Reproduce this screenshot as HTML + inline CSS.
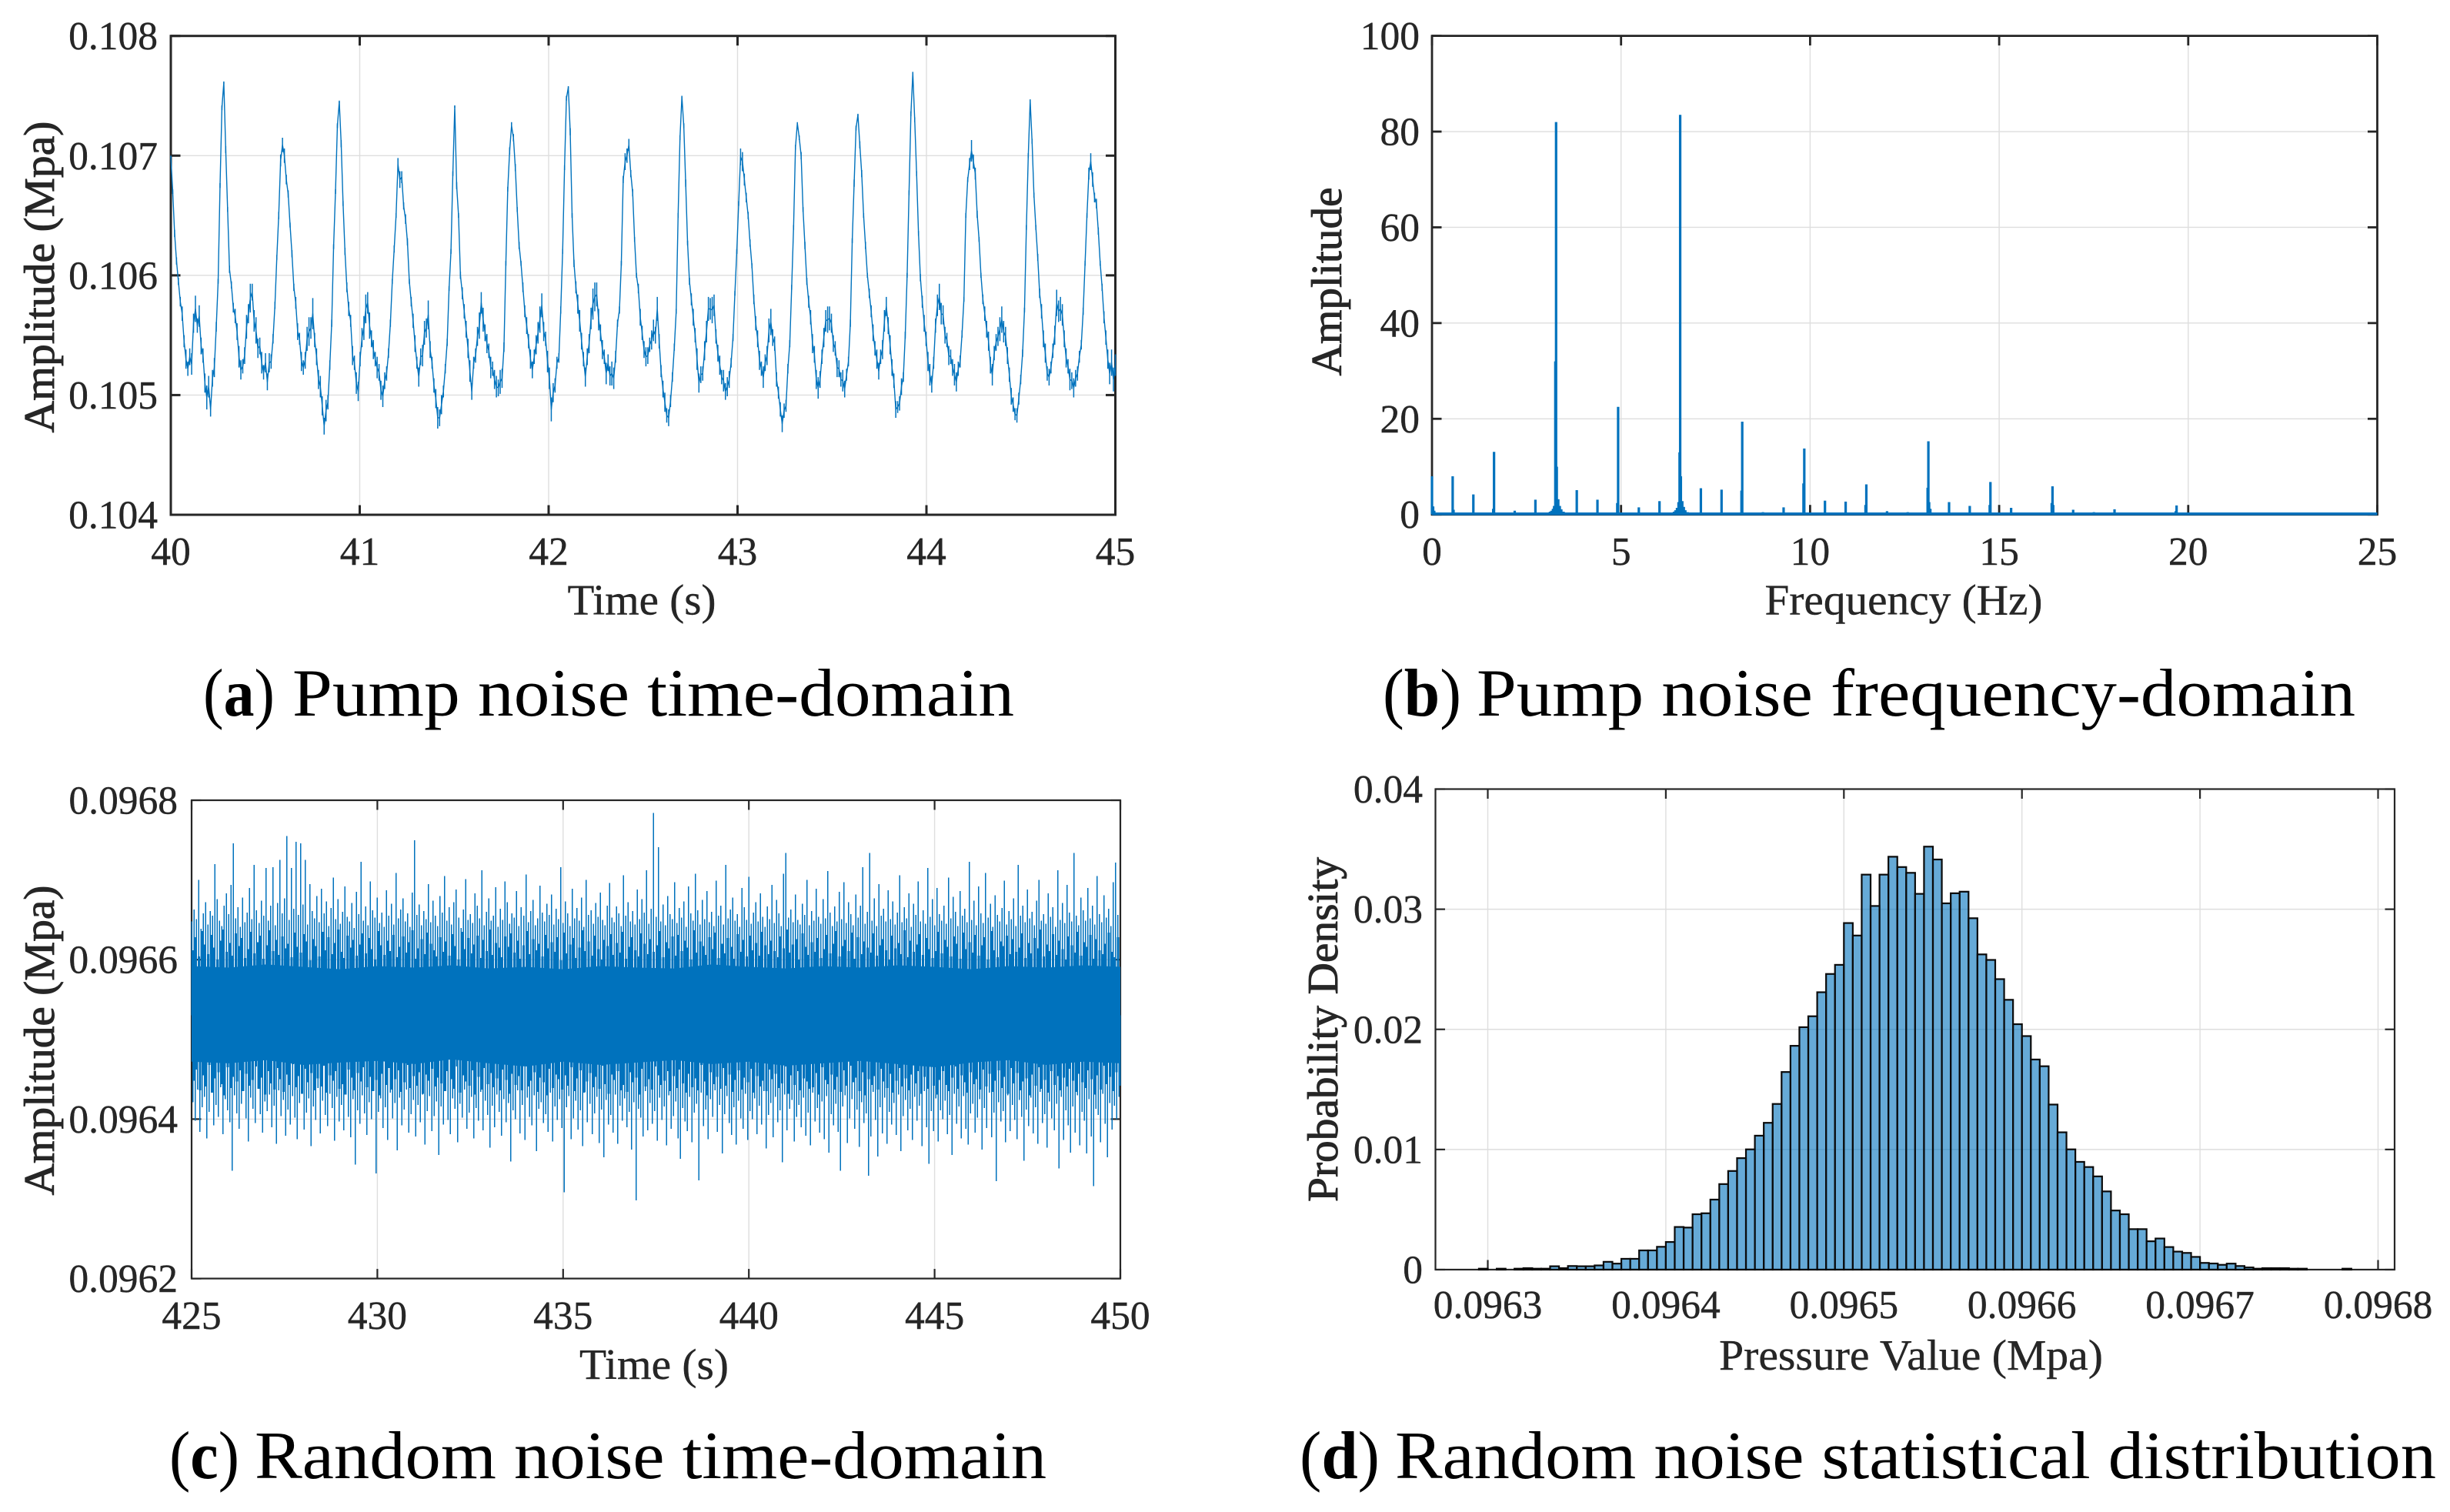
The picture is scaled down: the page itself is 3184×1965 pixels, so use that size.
<!DOCTYPE html>
<html lang="en">
<head>
<meta charset="utf-8">
<title>Pump noise and random noise analysis</title>
<style>
html,body{margin:0;padding:0;background:#fff;width:3184px;height:1965px;overflow:hidden}
svg{display:block}
text{font-family:"Liberation Serif",serif;fill:#262626;stroke:#262626;stroke-width:.4px}
.cap{fill:#000;stroke:none}
</style>
</head>
<body>
<svg id="fig" xmlns="http://www.w3.org/2000/svg" width="3184" height="1965" viewBox="0 0 3184 1965">
<rect width="3184" height="1965" fill="#fff"/>
<g id="panel-a"></g>
<g id="panel-b"></g>
<g id="panel-c"></g>
<g id="panel-d"></g>
<text class="cap" x="264" y="930" font-size="88" textLength="93" lengthAdjust="spacingAndGlyphs">(<tspan font-weight="bold">a</tspan>)</text>
<text class="cap" x="380" y="930" font-size="88" textLength="938" lengthAdjust="spacingAndGlyphs">Pump noise time-domain</text>
<text class="cap" x="1797" y="930" font-size="88" textLength="102" lengthAdjust="spacingAndGlyphs">(<tspan font-weight="bold">b</tspan>)</text>
<text class="cap" x="1919" y="930" font-size="88" textLength="1142" lengthAdjust="spacingAndGlyphs">Pump noise frequency-domain</text>
<text class="cap" x="220" y="1921" font-size="88" textLength="91" lengthAdjust="spacingAndGlyphs">(<tspan font-weight="bold">c</tspan>)</text>
<text class="cap" x="331" y="1921" font-size="88" textLength="1029" lengthAdjust="spacingAndGlyphs">Random noise time-domain</text>
<text class="cap" x="1689" y="1921" font-size="88" textLength="104" lengthAdjust="spacingAndGlyphs">(<tspan font-weight="bold">d</tspan>)</text>
<text class="cap" x="1813" y="1921" font-size="88" textLength="1353" lengthAdjust="spacingAndGlyphs">Random noise statistical distribution</text>
</svg>
<script>
// ---------- Panel (a) data: pump pressure, units of 1e-5 Mpa, sampled uniformly from 40 s to 45 s
const pumpTimeRange = [40, 45];
const pumpTimeTicks = [40, 41, 42, 43, 44, 45];
const pumpAmpTicks = [0.104, 0.105, 0.106, 0.107, 0.108];
const pumpAmp = [
10699,10670,10635,10612,10595,10578,10568,10545,10530,10522,10532,10526,10560,10572,10558,10566,10541,10533,10510,10498,
10507,10488,10514,10523,10557,10595,10675,10740,10761,10705,10655,10605,10592,10573,10566,10553,10532,10521,10524,10533,
10557,10568,10581,10586,10562,10554,10539,10541,10527,10519,10527,10511,10527,10528,10547,10575,10615,10650,10696,10709,
10700,10680,10668,10642,10618,10590,10577,10553,10547,10528,10523,10529,10547,10553,10556,10568,10546,10532,10513,10507,
10491,10474,10487,10494,10525,10560,10624,10670,10725,10745,10710,10660,10620,10590,10572,10562,10533,10527,10510,10503,
10530,10548,10556,10572,10577,10558,10547,10538,10530,10523,10519,10504,10499,10512,10518,10535,10560,10595,10622,10650,
10693,10680,10682,10658,10647,10628,10595,10578,10562,10543,10527,10515,10532,10533,10552,10556,10567,10538,10527,10508,
10497,10481,10481,10492,10503,10522,10544,10589,10620,10685,10741,10675,10650,10600,10585,10570,10555,10539,10520,10503,
10527,10533,10549,10558,10577,10563,10552,10543,10537,10523,10522,10513,10507,10506,10511,10514,10540,10610,10672,10704,
10725,10715,10690,10655,10625,10610,10590,10570,10558,10545,10530,10521,10532,10542,10552,10563,10575,10553,10547,10528,
10514,10488,10502,10508,10527,10531,10571,10620,10690,10748,10757,10720,10650,10610,10590,10576,10562,10545,10530,10515,
10532,10543,10564,10576,10582,10584,10563,10552,10538,10532,10518,10527,10516,10518,10514,10532,10560,10571,10610,10680,
10695,10700,10709,10685,10669,10630,10600,10589,10565,10552,10538,10532,10533,10542,10546,10554,10550,10572,10545,10520,
10505,10494,10483,10481,10495,10515,10540,10570,10650,10715,10749,10725,10677,10627,10595,10580,10565,10550,10530,10510,
10517,10518,10537,10553,10572,10572,10571,10575,10549,10535,10525,10515,10512,10503,10507,10513,10527,10548,10585,10620,
10660,10699,10695,10680,10665,10650,10627,10608,10580,10560,10547,10529,10522,10515,10527,10533,10554,10561,10548,10543,
10513,10502,10488,10476,10487,10491,10522,10543,10590,10640,10707,10727,10715,10700,10655,10625,10595,10578,10565,10543,
10534,10513,10506,10513,10532,10548,10562,10563,10564,10560,10543,10539,10523,10522,10513,10512,10505,10517,10528,10560,
10629,10677,10723,10734,10709,10685,10650,10625,10600,10585,10570,10552,10539,10530,10520,10532,10538,10562,10574,10558,
10542,10523,10512,10488,10490,10493,10507,10515,10550,10600,10669,10735,10769,10730,10685,10635,10598,10578,10560,10547,
10528,10517,10509,10527,10558,10575,10582,10568,10567,10550,10546,10533,10532,10523,10517,10511,10522,10528,10551,10580,
10650,10680,10693,10704,10695,10685,10651,10630,10600,10580,10568,10555,10545,10525,10517,10535,10544,10549,10555,10563,
10553,10549,10533,10517,10499,10492,10484,10483,10497,10513,10535,10571,10640,10700,10746,10712,10667,10640,10615,10585,
10570,10547,10535,10518,10515,10523,10537,10550,10577,10570,10572,10567,10547,10531,10524,10513,10512,10506,10514,10518,
10532,10542,10570,10610,10650,10685,10695,10680,10665,10660,10637,10610,10590,10565,10548,10530,10518,10527,10513,10525
];
// half-span of the high-frequency ripple around each sample, same units
const pumpRipple = [
1,2,3,3,3,4,6,5,8,6,7,9,8,11,6,9,7,6,8,10,
9,6,7,8,4,2,2,2,1,3,2,3,3,4,6,7,9,8,6,7,
10,8,12,7,9,11,8,7,9,6,8,7,8,6,4,3,2,3,5,6,
6,4,3,2,3,3,5,7,5,8,6,7,10,12,9,13,6,7,8,9,
8,7,9,6,4,3,2,2,2,1,3,2,3,4,6,5,8,6,9,8,
6,8,10,12,9,11,7,8,6,9,7,8,9,7,6,4,3,2,3,2,
5,7,5,3,4,3,2,4,6,7,5,8,7,9,10,8,12,7,5,6,
8,9,7,8,5,4,3,2,2,2,1,3,2,3,5,6,7,8,9,7,
5,6,8,11,9,10,7,8,6,9,6,8,9,7,10,8,4,2,2,3,
3,3,3,2,3,2,4,5,7,6,8,7,6,8,9,11,10,8,6,9,
9,10,8,6,5,4,3,2,2,2,1,3,2,3,5,8,9,7,6,8,
7,8,9,13,12,10,9,7,8,6,9,7,8,10,9,5,3,3,2,3,
7,6,5,3,3,2,2,4,7,6,7,8,7,6,8,9,7,10,6,5,
7,8,6,7,5,4,3,2,2,2,1,2,3,2,3,5,7,6,9,8,
7,6,8,9,10,9,11,9,6,7,8,6,9,7,8,7,4,3,2,2,
2,7,8,5,4,3,3,2,4,6,7,8,6,9,7,8,10,11,7,6,
6,5,6,7,6,5,4,3,2,2,2,1,2,3,2,3,3,5,6,8,
7,8,9,7,6,8,9,11,10,8,7,6,8,7,6,9,7,5,4,3,
2,3,2,1,3,3,2,3,2,4,5,7,6,8,7,6,8,9,8,7,
8,7,6,7,5,6,7,4,3,2,2,2,1,2,2,2,3,5,7,6,
8,9,7,5,6,9,11,9,8,7,6,8,6,7,9,8,6,5,3,2,
2,2,5,9,6,5,3,2,2,4,6,7,8,7,9,6,7,8,10,11,
9,8,7,6,7,6,5,6,5,4,3,2,2,2,1,2,2,2,3,4,
6,7,8,6,7,5,6,8,11,9,10,9,7,8,6,9,7,8,7,6,
5,4,3,2,2,5,7,6,4,4,3,2,3,5,6,8,9,11,10,9
];

// ---------- Panel (b) data: spectrum stems, frequency in Hz and amplitude
const specFreqTicks = [0, 5, 10, 15, 20, 25];
const specAmpTicks = [0, 20, 40, 60, 80, 100];
const specFreq = [
0,0.03,0.06,0.547,0.57,1.094,1.641,1.62,2.188,2.735,
3.06,3.12,3.16,3.2,3.23,3.262,3.282,3.3,3.34,3.38,3.42,3.48,
3.829,4.376,4.923,4.9,5.47,6.017,
6.34,6.4,6.44,6.48,6.52,6.548,6.564,6.582,6.62,6.66,6.7,6.76,
7.111,7.658,8.205,8.185,8.752,9.299,9.846,9.825,10.393,10.94,11.487,11.465,12.034,12.581,
13.128,13.108,13.148,13.18,13.675,14.222,14.769,14.75,15.316,15.863,16.41,16.39,16.43,16.957,17.504,18.051,18.598,19.145,19.692,19.67,
20.239,20.786,21.333,21.88,22.427,22.974,23.521,24.068,24.615
];
const specAmp = [
8,1.7,0.8,8,1,4.2,13.1,1.2,0.8,3.1,
0.4,0.6,0.8,1.2,1.8,32,82,10,3.2,1.8,1.1,0.6,
5.1,3.1,22.5,2.4,1.5,2.8,
0.4,0.6,0.9,1.4,2.6,13,83.5,8,2.8,1.6,0.9,0.5,
5.5,5.2,19.4,5,0.5,1.5,13.8,6.5,2.9,2.7,6.3,2,0.7,0.5,
15.3,5.6,2.6,1.2,2.6,1.8,6.8,2,1.4,0.4,5.9,2.4,2,1,0.5,1.1,0.3,0.4,1.9,0.7,
0.4,0.1,0.3,0.1,0.1,0.2,0.1,0.2,0.1
];

// ---------- Panel (c) data: noise envelopes, units of 1e-6 Mpa above 0.096 Mpa
const noiseTimeRange = [425, 450];
const noiseTimeTicks = [425, 430, 435, 440, 445, 450];
const noiseAmpTicks = [0.0962, 0.0964, 0.0966, 0.0968];
const noiseHigh = [
648,663,651,700,639,658,672,644,661,655,720,676,649,642,668,683,657,694,746,652,
666,641,678,647,659,690,651,719,662,646,674,655,715,649,668,716,643,671,725,658,
677,755,650,715,664,748,656,746,669,725,644,695,661,652,680,647,689,658,673,642,
665,703,651,676,645,660,692,654,648,671,640,685,657,723,649,667,643,698,662,653,
678,646,659,641,687,655,670,644,709,652,663,677,648,658,641,684,750,656,669,643,
661,651,695,647,674,655,642,680,659,705,649,666,644,672,688,653,640,663,701,650,
657,646,683,668,652,712,643,660,677,649,655,691,641,664,650,698,672,645,658,653,
686,642,666,655,707,647,661,675,643,652,693,659,648,670,656,682,644,664,651,716,
646,673,658,642,689,652,665,649,678,641,700,656,662,645,671,654,684,650,643,668,
696,653,647,667,658,642,706,655,672,648,661,644,688,651,676,659,712,645,664,784,
654,741,648,669,643,680,657,651,697,646,665,653,673,641,692,658,649,708,662,644,
675,651,686,647,660,642,699,655,668,644,719,652,663,678,649,657,641,690,666,650,
704,645,659,672,648,683,654,641,667,651,694,646,675,658,642,708,734,653,663,647,
682,650,644,670,656,700,643,661,649,689,654,645,676,652,711,659,642,667,648,685,
651,697,646,672,657,643,682,653,668,716,645,660,734,649,677,642,695,655,664,648,
687,651,673,644,659,706,647,666,652,683,641,670,656,698,648,662,645,715,654,676,
643,690,657,649,668,645,703,652,679,660,642,686,655,664,647,723,650,674,643,692,
658,646,709,653,670,641,681,656,648,665,699,644,661,651,677,642,719,655,668,647,
688,652,660,643,674,700,649,657,645,683,654,666,641,712,650,671,646,694,659,648,
734,655,643,678,662,649,690,652,668,644,705,657,647,681,653,664,642,697,722,656
];
const noiseMidHigh = [
612,628,604,636,619,607,631,615,600,624,638,610,621,605,633,617,627,602,613,635,
608,622,630,601,618,637,611,625,606,629,614,620,603,634,616,609,632,623,599,626,
617,604,635,612,628,607,621,638,610,602,630,615,625,605,619,633,608,627,613,600,
636,618,606,624,611,631,603,616,629,609,622,637,601,614,626,607,634,620,612,604,
628,610,623,605,632,617,600,635,613,627,608,619,630,602,625,611,638,606,621,615,
603,629,616,633,609,624,601,618,636,607,626,612,620,604,631,614,622,610,628,599,
634,608,619,627,602,615,637,611,623,605,630,613,600,625,617,632,606,621,609,635,
601,616,628,612,604,633,620,607,626,610,618,636,603,622,614,629,605,631,611,624,
615,600,637,609,623,617,606,628,613,634,602,620,608,627,616,601,632,610,625,604,
630,612,621,605,635,618,607,624,611,603,629,614,638,609,619,626,600,633,616,606,
622,610,627,602,613,631,608,620,636,604,617,625,611,634,601,628,607,623,615,609,
633,605,618,626,612,600,630,614,621,607,637,603,624,610,619,632,606,627,613,602,
611,635,608,625,616,604,629,620,601,634,613,622,609,631,605,618,628,600,636,612,
603,623,617,630,607,626,610,615,633,602,621,608,627,614,638,604,619,611,632,606,
624,613,600,629,618,609,635,605,622,616,631,601,626,612,607,620,634,610,603,628
];
const noiseLow = [
421,398,437,384,415,428,376,409,433,392,418,403,440,381,425,411,396,335,430,407,
388,419,435,401,372,427,413,395,438,406,383,422,410,431,390,417,369,436,404,424,
379,412,393,429,402,375,420,434,387,408,426,366,416,399,439,382,423,405,391,432,
414,373,428,397,418,386,436,403,377,425,343,411,394,430,407,380,421,400,438,332,
409,426,389,415,374,433,401,420,361,427,392,412,437,383,406,424,378,418,396,431,
368,410,429,385,404,422,355,416,393,435,399,381,426,413,371,419,402,437,388,408,
428,376,414,398,434,386,423,405,364,417,390,431,409,379,425,396,420,347,411,400,
436,382,418,374,427,403,392,430,360,413,421,395,406,384,433,372,416,399,425,389,
308,415,429,375,401,423,387,411,366,434,396,419,381,407,428,370,412,352,424,393,
405,383,431,369,417,398,426,390,409,362,421,298,413,402,378,435,386,420,394,410,
373,427,399,416,367,430,388,404,422,376,350,414,397,385,428,371,408,419,323,433,
391,412,375,425,403,436,384,418,357,406,429,395,380,415,368,423,401,388,432,374,
410,400,426,381,417,393,435,363,405,420,377,428,396,411,346,431,386,413,424,372,
403,418,390,427,379,408,367,433,397,414,383,422,375,429,358,406,392,419,384,335,
416,430,370,401,425,388,412,365,421,395,407,329,378,434,399,353,415,382,427,369,
409,393,420,380,431,360,404,424,386,413,374,428,398,417,366,435,390,344,410,385,
426,372,411,400,423,381,405,355,432,394,416,376,429,388,368,407,419,383,402,425,
362,414,389,433,377,408,322,421,397,410,371,430,385,418,399,375,424,403,348,412,
391,427,382,415,369,434,395,406,364,422,401,386,419,338,428,374,411,392,358,416,
383,430,367,409,398,357,425,378,316,413,405,371,432,394,352,420,387,417,400,428
];
const noiseMidLow = [
448,462,436,455,441,468,433,451,459,444,430,465,439,453,447,461,435,457,442,449,
466,438,452,431,460,445,437,464,450,434,456,443,469,440,454,432,463,446,458,436,
451,441,467,433,455,448,460,438,444,431,462,452,436,458,447,465,440,453,435,449,
430,457,443,464,437,450,461,434,446,468,439,454,442,459,432,456,448,463,441,452,
445,435,460,450,438,466,433,455,447,442,461,431,453,437,464,444,458,440,451,436,
462,449,432,457,443,454,436,468,441,448,459,434,452,446,430,463,439,456,450,437,
455,442,465,435,451,461,433,447,458,440,453,438,467,444,432,456,449,460,436,443,
434,459,446,452,431,463,441,450,437,466,455,443,448,460,435,454,439,462,445,433,
457,440,451,436,468,447,430,459,444,453,438,464,442,456,434,449,461,437,452,446,
463,433,454,441,448,435,462,450,457,439,445,466,432,455,443,460,436,451,447,438,
440,458,431,465,449,444,456,437,453,434,461,442,467,446,452,435,459,430,450,443,
454,437,463,447,439,457,433,448,464,441,451,436,456,445,460,432,453,438,468,442,
431,449,460,443,435,452,466,438,455,446,433,459,444,450,437,462,441,457,434,448,
461,439,453,432,464,445,458,436,447,451,430,456,442,465,438,449,433,460,443,454,
436,452,441,463,448,434,457,446,439,461,450,431,455,437,467,444,453,435,459,442
];
const noiseCoreHigh = [592,590,594,591,588,592,590,593,589,591,588,592,590,589,594,591,589,592,590,593,591,588,592,590,593,591];
const noiseCoreLow = [472,470,474,468,471,473,469,475,470,466,472,468,471,474,469,472,467,470,473,469,465,471,474,468,472,470];

// ---------- Panel (d) data: histogram
const histXTicks = [0.0963, 0.0964, 0.0965, 0.0966, 0.0967, 0.0968];
const histYTicks = [0, 0.01, 0.02, 0.03, 0.04];
const histFirstEdge = 0.096295;
const histBinWidth = 0.000005;
const histDensity = [
0.00008,0,0.00008,0,0.00008,0.00012,0.00008,0.00008,0.00028,0.00012,0.0003,0.00028,0.00028,0.00035,0.00065,0.0005,0.0009,0.0009,0.0016,0.0016,0.0019,
0.0023,0.00355,0.0035,
0.00461,0.00469,0.00583,0.00712,0.00821,0.00928,0.01001,0.01115,0.01222,0.01379,0.01645,0.01863,0.02018,0.02109,0.02309,0.02461,0.02537,
0.02885,0.02781,0.03288,0.03027,0.03288,0.03437,0.03351,0.03303,0.03128,0.03521,0.03414,0.03049,0.03133,0.03146,0.02925,0.02624,0.02578,0.02418,0.02246,0.02043,
0.01944,0.01749,0.01693,0.01374,0.01143,0.01001,0.00897,0.00854,0.00776,0.00651,0.00492,0.00461,0.00337,0.00337,0.00236,0.00259,0.00188,0.0015,0.00139,0.00106,
0.00056,0.00051,0.0004,0.0005,0.0003,0.00018,0.00008,0.00012,0.00012,0.00012,0.00008,0.00008,0,0,0,0,0.00008
];

const NS = 'http://www.w3.org/2000/svg';
function make(parent, tag, attrs, txt) {
  const el = document.createElementNS(NS, tag);
  for (const k in attrs) el.setAttribute(k, attrs[k]);
  if (txt !== undefined) el.textContent = txt;
  parent.appendChild(el);
  return el;
}
function scale(d0, d1, r0, r1) {
  return function (v) { return r0 + (v - d0) / (d1 - d0) * (r1 - r0); };
}

function drawAxes(p) {
  const g = document.getElementById(p.id);
  // grid
  p.xTicks.forEach(function (t) {
    const gl = make(g, 'line', {x1: p.x(t), x2: p.x(t), y1: p.T, y2: p.B, stroke: '#dedede', 'stroke-width': 1.4});
    
    
  });
  p.yTicks.forEach(function (t) {
    const gl = make(g, 'line', {x1: p.L, x2: p.R, y1: p.y(t), y2: p.y(t), stroke: '#dedede', 'stroke-width': 1.4});
    
    
  });
  // frame
  const frame = make(g, 'rect', {x: p.L, y: p.T, width: p.R - p.L, height: p.B - p.T, fill: 'none', stroke: '#262626', 'stroke-width': p.w});
  
  
  // ticks and labels
  p.xTicks.forEach(function (t) {
    const a = make(g, 'line', {x1: p.x(t), x2: p.x(t), y1: p.B, y2: p.B - 12.5, stroke: '#262626', 'stroke-width': p.w});
    
    
    const b = make(g, 'line', {x1: p.x(t), x2: p.x(t), y1: p.T, y2: p.T + 12.5, stroke: '#262626', 'stroke-width': p.w});
    
    
    const lab = make(g, 'text', {x: p.x(t), y: p.xLabelY, 'font-size': 51.5, 'text-anchor': 'middle'}, p.xFmt(t));
    
    
  });
  p.yTicks.forEach(function (t) {
    const a = make(g, 'line', {x1: p.L, x2: p.L + 12.5, y1: p.y(t), y2: p.y(t), stroke: '#262626', 'stroke-width': p.w});
    
    
    const b = make(g, 'line', {x1: p.R, x2: p.R - 12.5, y1: p.y(t), y2: p.y(t), stroke: '#262626', 'stroke-width': p.w});
    
    
    const lab = make(g, 'text', {x: p.yLabelX, y: p.y(t) + 17.5, 'font-size': 51.5, 'text-anchor': 'end'}, p.yFmt(t));
    
    
  });
  // titles
  const xt = make(g, 'text', {x: p.xTitle[0], y: p.xTitle[1], 'font-size': 56, 'text-anchor': 'middle', textLength: p.xTitle[3], lengthAdjust: 'spacingAndGlyphs'}, p.xTitle[2]);
  
  
  const yt = make(g, 'text', {transform: 'translate(' + p.yTitle[0] + ' ' + p.yTitle[1] + ') rotate(-90)', 'font-size': 56, 'text-anchor': 'middle', textLength: p.yTitle[3], lengthAdjust: 'spacingAndGlyphs', style: 'stroke-width:.9px'}, p.yTitle[2]);
  
  
  return g;
}

// ---------- Panel (a)
(function () {
  const p = {id: 'panel-a', L: 222, R: 1449.5, T: 46.7, B: 669, w: 3,
    xTicks: pumpTimeTicks, yTicks: pumpAmpTicks,
    xFmt: function (t) { return String(t); }, yFmt: function (t) { return t.toFixed(3); },
    xLabelY: 734, yLabelX: 205,
    xTitle: [834, 798.5, 'Time (s)', 193], yTitle: [70, 360, 'Amplitude (Mpa)', 405]};
  p.x = scale(pumpTimeRange[0], pumpTimeRange[1], p.L, p.R);
  p.y = scale(0.104, 0.108, p.B, p.T);
  const g = drawAxes(p);
  const dt = (pumpTimeRange[1] - pumpTimeRange[0]) / (pumpAmp.length - 1);
  const pts = pumpAmp.map(function (v, i) {
    return p.x(pumpTimeRange[0] + i * dt).toFixed(2) + ',' + p.y(v * 1e-5).toFixed(2);
  }).join(' ');
  const line = make(g, 'polyline', {points: pts, fill: 'none', stroke: '#0072bd', 'stroke-width': 1.4, 'stroke-linejoin': 'round'});
  
  
  let d = '';
  pumpAmp.forEach(function (v, i) {
    const x = p.x(pumpTimeRange[0] + i * dt).toFixed(2);
    const r = pumpRipple[i];
    d += 'M' + x + ' ' + p.y((v + r) * 1e-5).toFixed(2) + 'V' + p.y((v - r) * 1e-5).toFixed(2);
  });
  const ripple = make(g, 'path', {d: d, fill: 'none', stroke: '#0072bd', 'stroke-width': 1.5});
  
  
})();

// ---------- Panel (b)
(function () {
  const p = {id: 'panel-b', L: 1861, R: 3089.5, T: 46.6, B: 668.7, w: 2.8,
    xTicks: specFreqTicks, yTicks: specAmpTicks,
    xFmt: function (t) { return String(t); }, yFmt: function (t) { return String(t); },
    xLabelY: 734, yLabelX: 1845,
    xTitle: [2474, 798.5, 'Frequency (Hz)', 361], yTitle: [1743, 366, 'Amplitude', 245]};
  p.x = scale(0, 25, p.L, p.R);
  p.y = scale(0, 100, p.B, p.T);
  const g = drawAxes(p);
  const base = make(g, 'line', {x1: p.x(0), x2: p.x(25), y1: p.y(0.15), y2: p.y(0.15), stroke: '#0072bd', 'stroke-width': 3.6});
  
  
  specFreq.forEach(function (f, i) {
    const stem = make(g, 'line', {x1: p.x(f), x2: p.x(f), y1: p.y(0), y2: p.y(specAmp[i]), stroke: '#0072bd', 'stroke-width': 3.2});
    
    
  });
})();

// ---------- Panel (c)
(function () {
  const p = {id: 'panel-c', L: 249, R: 1456, T: 1040, B: 1661.6, w: 2.2,
    xTicks: noiseTimeTicks, yTicks: noiseAmpTicks,
    xFmt: function (t) { return String(t); }, yFmt: function (t) { return t.toFixed(4); },
    xLabelY: 1727, yLabelX: 231,
    xTitle: [850, 1792, 'Time (s)', 194], yTitle: [70, 1352, 'Amplitude (Mpa)', 403]};
  p.x = scale(noiseTimeRange[0], noiseTimeRange[1], p.L, p.R);
  p.y = scale(0.0962, 0.0968, p.B, p.T);
  const g = drawAxes(p);
  const toV = function (u) { return 0.096 + u * 1e-6; };
  const span = noiseTimeRange[1] - noiseTimeRange[0];
  const mid = p.y(toV(530)).toFixed(2);
  function stems(values, width, offset) {
    let d = '';
    values.forEach(function (u, i) {
      const x = p.x(noiseTimeRange[0] + span * (i + offset) / values.length).toFixed(2);
      d += 'M' + x + ' ' + mid + 'V' + p.y(toV(u)).toFixed(2);
    });
    const path = make(g, 'path', {d: d, fill: 'none', stroke: '#0072bd', 'stroke-width': width, 'shape-rendering': 'crispEdges'});
    return path;
  }
  const hi = stems(noiseHigh, 1.5, 0);
  
  
  const lo = stems(noiseLow, 1.5, 0.5);
  
  
  const mh = stems(noiseMidHigh, 3, 0.3);
  
  
  const ml = stems(noiseMidLow, 3, 0.7);
  
  
  const m = noiseCoreHigh.length - 1;
  const top = noiseCoreHigh.map(function (u, i) { return p.x(noiseTimeRange[0] + span * i / m).toFixed(2) + ',' + p.y(toV(u)).toFixed(2); });
  const bot = noiseCoreLow.map(function (u, i) { return p.x(noiseTimeRange[0] + span * i / m).toFixed(2) + ',' + p.y(toV(u)).toFixed(2); }).reverse();
  const core = make(g, 'polygon', {points: top.concat(bot).join(' '), fill: '#0072bd'});
  
  
})();

// ---------- Panel (d)
(function () {
  const p = {id: 'panel-d', L: 1865.5, R: 3112, T: 1025.5, B: 1650, w: 2.2,
    xTicks: histXTicks, yTicks: histYTicks,
    xFmt: function (t) { return t.toFixed(4); }, yFmt: function (t) { return t === 0 ? '0' : t.toFixed(2); },
    xLabelY: 1713, yLabelX: 1849,
    xTitle: [2483.5, 1780, 'Pressure Value (Mpa)', 499], yTitle: [1738, 1338, 'Probability Density', 448]};
  p.x = scale(0.09627061, 0.09680929, p.L, p.R);
  p.y = scale(0, 0.04, p.B, p.T);
  const g = drawAxes(p);
  histDensity.forEach(function (d, i) {
    if (d <= 0) return;
    const x0 = p.x(histFirstEdge + i * histBinWidth);
    const x1 = p.x(histFirstEdge + (i + 1) * histBinWidth);
    const bar = make(g, 'rect', {x: x0, y: p.y(d), width: x1 - x0, height: p.y(0) - p.y(d), fill: 'rgba(0,114,189,0.6)', stroke: '#0a0a0a', 'stroke-width': 2.2});
    
    
  });
})();
</script>
</body>
</html>
